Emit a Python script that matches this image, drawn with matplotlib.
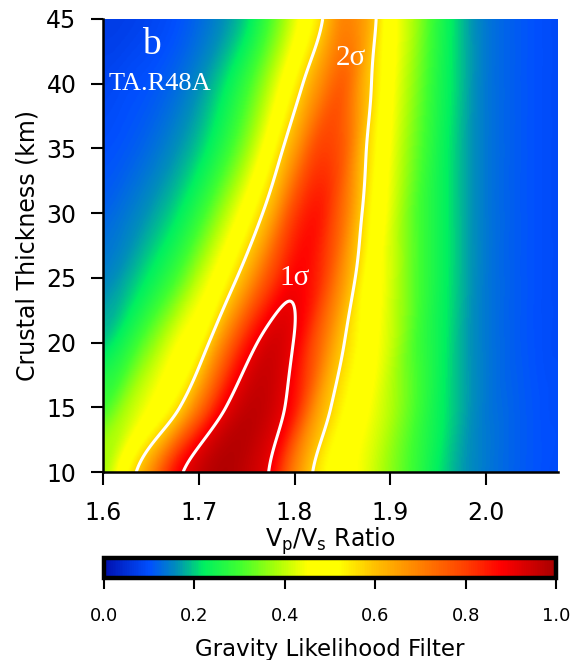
import numpy as np
import matplotlib
matplotlib.use("Agg")
import matplotlib.pyplot as plt
from matplotlib.colors import LinearSegmentedColormap

# ---------------- data ----------------
vpvs = [1.600, 1.625, 1.650, 1.675, 1.700, 1.725, 1.750, 1.775, 1.800, 1.825,
        1.850, 1.875, 1.900, 1.925, 1.950, 1.975, 2.000, 2.025, 2.050, 2.075]
thickness = [10, 15, 20, 25, 30, 35, 40, 45]
# vpvs of the likelihood maximum in each thickness row
ridge_vpvs = [1.728, 1.756, 1.779, 1.800, 1.818, 1.831, 1.845, 1.858]

like_h10 = [0.38, 0.52, 0.68, 0.86, 0.95, 0.985, 0.96, 0.89, 0.70, 0.55,
            0.48, 0.43, 0.36, 0.29, 0.22, 0.17, 0.14, 0.12, 0.105, 0.095]
like_h15 = [0.30, 0.385, 0.46, 0.55, 0.72, 0.885, 0.96, 0.945, 0.85, 0.65,
            0.53, 0.46, 0.39, 0.31, 0.235, 0.18, 0.14, 0.12, 0.105, 0.095]
like_h20 = [0.20, 0.26, 0.35, 0.44, 0.51, 0.69, 0.85, 0.935, 0.895, 0.75,
            0.59, 0.49, 0.41, 0.31, 0.24, 0.18, 0.14, 0.117, 0.102, 0.092]
like_h25 = [0.15, 0.18, 0.23, 0.30, 0.40, 0.50, 0.64, 0.79, 0.88, 0.83,
            0.67, 0.51, 0.42, 0.32, 0.245, 0.185, 0.14, 0.117, 0.102, 0.092]
like_h30 = [0.12, 0.14, 0.17, 0.21, 0.28, 0.38, 0.49, 0.63, 0.80, 0.85,
            0.73, 0.55, 0.43, 0.32, 0.245, 0.185, 0.14, 0.117, 0.102, 0.092]
like_h35 = [0.10, 0.11, 0.13, 0.16, 0.20, 0.27, 0.37, 0.50, 0.655, 0.79,
            0.76, 0.58, 0.45, 0.34, 0.25, 0.185, 0.14, 0.117, 0.102, 0.092]
like_h40 = [0.085, 0.095, 0.105, 0.125, 0.16, 0.21, 0.29, 0.40, 0.53, 0.67,
            0.75, 0.61, 0.47, 0.36, 0.26, 0.19, 0.14, 0.117, 0.102, 0.092]
like_h45 = [0.07, 0.075, 0.085, 0.10, 0.125, 0.16, 0.21, 0.31, 0.43, 0.555,
            0.69, 0.64, 0.48, 0.38, 0.27, 0.19, 0.14, 0.117, 0.102, 0.092]

sigma_levels = [0.58, 0.90]
sigma_labels = ["2σ", "1σ"]
x_ticks = [1.6, 1.7, 1.8, 1.9, 2.0]
y_ticks = [10, 15, 20, 25, 30, 35, 40, 45]
cbar_ticks = [0.0, 0.2, 0.4, 0.6, 0.8, 1.0]

cmap_pos = [0.00, 0.10, 0.16, 0.22, 0.30, 0.38, 0.45, 0.52, 0.60, 0.70, 0.80, 0.88, 1.00]
cmap_col = ["#0010b0", "#0050ff", "#0090b8", "#00f060", "#40ff30", "#a8ff08",
            "#ffff00", "#ffff00", "#ffc000", "#ff8000", "#ff4000", "#ff0000", "#a80000"]


def catmull_rom_weights(n, m):
    """Display-resampling weights (uniform Catmull-Rom, like bicubic imshow)."""
    t = np.linspace(0, n - 1, m)
    i = np.clip(np.floor(t).astype(int), 0, n - 2)
    f = t - i
    w = [(-f**3 + 2 * f**2 - f) / 2, (3 * f**3 - 5 * f**2 + 2) / 2,
         (-3 * f**3 + 4 * f**2 + f) / 2, (f**3 - f**2) / 2]
    W = np.zeros((m, n))
    rows = np.arange(m)
    for k, off in enumerate([-1, 0, 1, 2]):
        np.add.at(W, (rows, np.clip(i + off, 0, n - 1)), w[k])
    return W


# ---------------- smooth display field (ridge-aligned resampling) ----------------
Z = np.array([like_h10, like_h15, like_h20, like_h25,
              like_h30, like_h35, like_h40, like_h45])
ridge = np.array(ridge_vpvs)
mx, my = 480, 480
xf = np.linspace(vpvs[0], vpvs[-1], mx)
yf = np.linspace(thickness[0], thickness[-1], my)
Wx = catmull_rom_weights(len(vpvs), mx)
Wy = catmull_rom_weights(len(thickness), my)
rows_fine = Z @ Wx.T
ridge_f = Wy @ ridge
Zf = np.zeros((my, mx))
for h in range(my):
    for k in range(len(thickness)):
        wk = Wy[h, k]
        if wk != 0.0:
            Zf[h] += wk * np.interp(xf + ridge[k] - ridge_f[h], xf, rows_fine[k])

# ---------------- figure ----------------
plt.rcParams["font.family"] = ["DejaVu Sans"]
plt.rcParams["mathtext.fontset"] = "custom"
plt.rcParams["mathtext.rm"] = "DejaVu Sans"
plt.rcParams["mathtext.it"] = "DejaVu Sans"

cmap = LinearSegmentedColormap.from_list("grav", list(zip(cmap_pos, cmap_col)))

fig = plt.figure(figsize=(5.73, 6.60), dpi=100)
ax = fig.add_axes([103 / 573, 1 - 472 / 660, 455 / 573, 453 / 660])

im = ax.imshow(np.clip(Zf, 0, 1), origin="lower", aspect="auto",
               extent=[vpvs[0], vpvs[-1], thickness[0], thickness[-1]],
               cmap=cmap, vmin=0, vmax=1, interpolation="bilinear")
ax.contour(xf, yf, Zf, levels=sigma_levels, colors="white", linewidths=2.2)

ax.set_xlim(1.6, 2.075)
ax.set_ylim(10, 45)
ax.set_xticks(x_ticks)
ax.set_xticklabels([f"{v:.1f}" for v in x_ticks])
ax.set_yticks(y_ticks)
ax.tick_params(axis="both", direction="out", length=9, width=1.5,
               labelsize=17, colors="black")
ax.tick_params(axis="x", pad=12)
ax.tick_params(axis="y", pad=10)
for s in ["top", "right"]:
    ax.spines[s].set_visible(False)
for s in ["left", "bottom"]:
    ax.spines[s].set_linewidth(1.8)

ax.set_xlabel(r"V$_\mathregular{p}$/V$_\mathregular{s}$ Ratio", fontsize=17, labelpad=0)
ax.set_ylabel("Crustal Thickness (km)", fontsize=17, labelpad=5)

serif = ["Liberation Serif", "DejaVu Serif"]
ax.text(1.650, 43.0, "b", color="white", fontsize=27, family=serif,
        ha="center", va="center")
ax.text(1.659, 40.0, "TA.R48A", color="white", fontsize=19, family=serif,
        ha="center", va="center")
ax.text(1.859, 42.0, sigma_labels[0], color="white", fontsize=21, family=serif,
        ha="center", va="center")
ax.text(1.800, 25.0, sigma_labels[1], color="white", fontsize=21, family=serif,
        ha="center", va="center")

# ---------------- colorbar ----------------
cax = fig.add_axes([104 / 573, 1 - 578 / 660, 452 / 573, 20 / 660])
cb = fig.colorbar(im, cax=cax, orientation="horizontal", ticks=cbar_ticks)
cb.outline.set_linewidth(3.2)
cb.ax.set_xticklabels([f"{v:.1f}" for v in cbar_ticks])
cb.ax.tick_params(direction="out", length=8, width=1.5, labelsize=13, pad=13)
cb.set_label("Gravity Likelihood Filter", fontsize=16.5, labelpad=9)

fig.savefig("out.png", dpi=100)
